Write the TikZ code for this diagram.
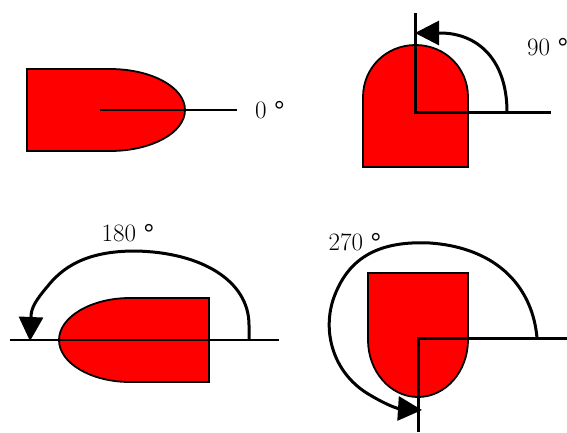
\documentclass[tikz,border=0pt]{standalone}
\usetikzlibrary{arrows.meta}
\begin{document}
\begin{tikzpicture}[x=1pt,y=-1pt,
  shapefill/.style={fill=red,draw=black,line width=1.8pt,line join=miter},
  thinaxis/.style={draw=black,line width=1.3pt},
  thickaxis/.style={draw=black,line width=3pt},
  turn/.style={draw=black,line width=3pt,-{Triangle[length=24pt,width=24pt]}},
  lbl/.style={font=\fontsize{25}{28}\selectfont,inner sep=0pt}]
\useasboundingbox (0,0) rectangle (567,432);
% ---- 0 degrees
\path[shapefill] (27,69) -- (110,69) .. controls (151,69) and (185,87) .. (185,110)
  .. controls (185,133) and (151,151) .. (110,151) -- (27,151) -- cycle;
\coordinate (a0) at (100,110);
\coordinate (b0) at (237,110);
\draw[thinaxis] (a0) -- (b0);
\node[lbl,anchor=west] (l0) at (255,110) {0 \textbf{°}};
% ---- 90 degrees
\path[shapefill] (363,167) -- (363,97) .. controls (363,68) and (386,45) .. (415.5,45)
  .. controls (445,45) and (468,68) .. (468,97) -- (468,167) -- cycle;
\coordinate (o90) at (415.5,112);
\coordinate (v90) at (415.5,13);
\coordinate (h90) at (551,112);
\draw[thickaxis] (v90) -- (o90) -- (h90);
\coordinate (s90) at (507,112);
\coordinate (e90) at (415,33);
\draw[turn] (s90) .. controls (507,60) and (478,33) .. (440,33) -- (e90);
\node[lbl,anchor=west] (l90) at (527,47) {90 \textbf{°}};
% ---- 180 degrees
\path[shapefill] (209,298) -- (130,298) .. controls (91,298) and (59,317) .. (59,340)
  .. controls (59,363) and (91,382) .. (130,382) -- (209,382) -- cycle;
\coordinate (a180) at (10,340);
\coordinate (b180) at (279,340);
\draw[thinaxis] (a180) -- (b180);
\coordinate (s180) at (249,340);
\coordinate (e180) at (30,341);
\draw[turn] (s180) -- (249,325) .. controls (249,280) and (200,252) .. (135,251)
  .. controls (85,251) and (62,268) .. (47,287) .. controls (36,300) and (31,308) .. (31,317) -- (e180);
\node[lbl] (l180) at (128,233) {180 \textbf{°}};
% ---- 270 degrees
\path[shapefill] (368,273) -- (468,273) -- (468,340) .. controls (468,371) and (446,397) .. (418,397)
  .. controls (390,397) and (368,371) .. (368,340) -- cycle;
\coordinate (o270) at (418,338);
\coordinate (v270) at (418,432);
\coordinate (h270) at (567,338);
\draw[thickaxis] (v270) -- (o270) -- (h270);
\coordinate (s270) at (537,338);
\coordinate (e270) at (422,410);
\draw[turn] (s270) .. controls (533,290) and (500,248) .. (430,243)
  .. controls (370,240) and (345,265) .. (333,300)
  .. controls (322,335) and (335,375) .. (370,395)
  .. controls (380,401) and (390,406) .. (398,408.5) -- (e270);
\node[lbl] (l270) at (355,242) {270 \textbf{°}};
\end{tikzpicture}
\end{document}
